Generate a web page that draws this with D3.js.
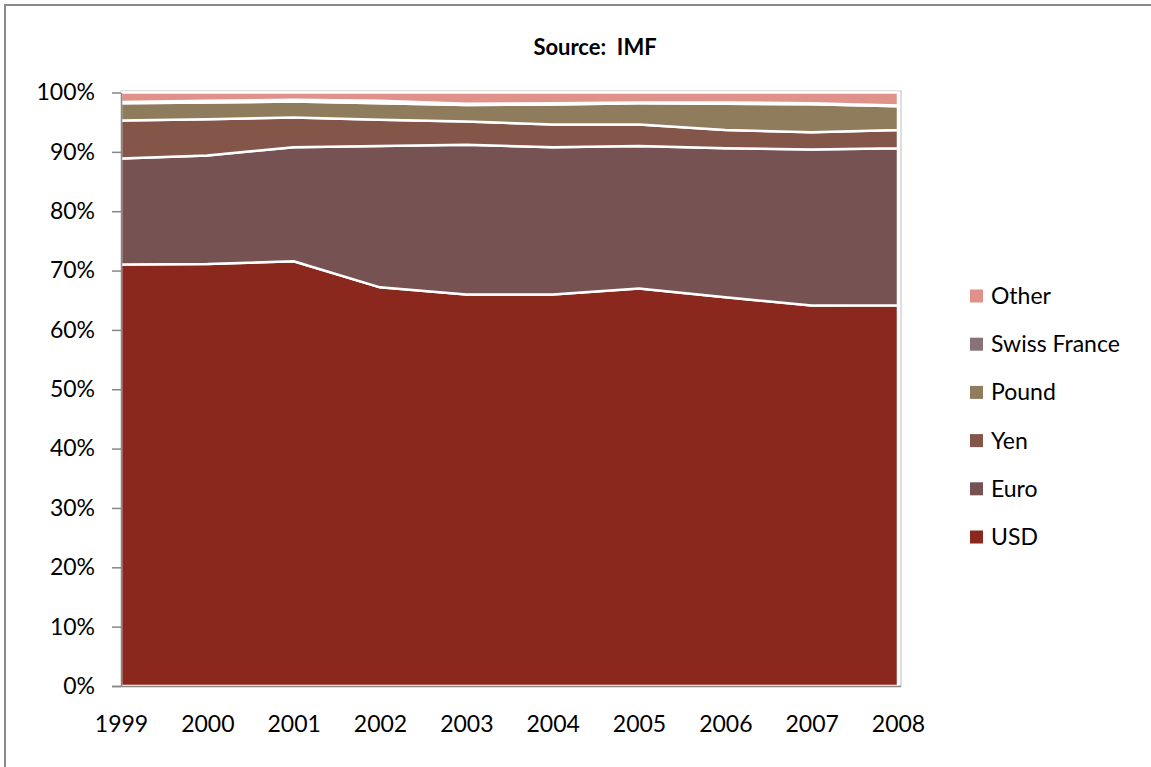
<!DOCTYPE html>
<html>
<head>
<meta charset="utf-8">
<script src="https://cdn.jsdelivr.net/npm/d3@7"></script>
<style>
  html, body { margin: 0; padding: 0; background: #fff; }
  svg { display: block; }
  text { font-family: Lato, "Open Sans", sans-serif; fill: #000; }
</style>
</head>
<body>
<svg id="chart" width="1151" height="767"></svg>
<script>
// Share of allocated foreign-exchange reserves by currency (%)
const years = ["1999", "2000", "2001", "2002", "2003", "2004", "2005", "2006", "2007", "2008"];
const usd    = [71.0, 71.1, 71.5, 67.1, 65.9, 65.9, 66.9, 65.5, 64.1, 64.1];
const euro   = [17.9, 18.3, 19.2, 23.8, 25.2, 24.8, 24.0, 25.1, 26.3, 26.4];
const yen    = [ 6.4,  6.1,  5.0,  4.4,  3.9,  3.8,  3.6,  3.1,  2.9,  3.1];
const pound  = [ 2.9,  2.8,  2.7,  2.8,  2.8,  3.4,  3.6,  4.4,  4.7,  4.0];
const swiss  = [ 0.2,  0.3,  0.3,  0.4,  0.2,  0.2,  0.1,  0.2,  0.2,  0.1];
const other  = [ 1.6,  1.4,  1.2,  1.4,  1.9,  1.8,  1.7,  1.7,  1.8,  2.2];

const seriesNames = ["USD", "Euro", "Yen", "Pound", "Swiss France", "Other"];
const seriesValues = [usd, euro, yen, pound, swiss, other];
const seriesColors = ["#8a281e", "#765252", "#84564a", "#8f7c5c", "#857377", "#e0918a"];
const yTicks = [0, 0.1, 0.2, 0.3, 0.4, 0.5, 0.6, 0.7, 0.8, 0.9, 1.0];

const rows = years.map((yr, i) => {
  const r = { year: yr };
  seriesNames.forEach((k, j) => { r[k] = seriesValues[j][i]; });
  return r;
});

const svg = d3.select("#chart");
const labelFont = "23px";

// Outer chart frame
svg.append("rect")
  .attr("x", 5).attr("y", 5)
  .attr("width", 1200).attr("height", 800)
  .attr("fill", "none")
  .attr("stroke", "#8a8a8a")
  .attr("stroke-width", 2);

// Title
svg.append("text")
  .attr("x", 595).attr("y", 55)
  .attr("text-anchor", "middle")
  .style("white-space", "pre")
  .style("font-weight", "bold")
  .style("font-size", "22px")
  .text("Source:  IMF");

const x = d3.scalePoint().domain(years).range([121, 898]);
const y = d3.scaleLinear().domain([0, 1]).range([686, 92.5]);

// Plot area border
svg.append("rect")
  .attr("x", 121).attr("y", 91)
  .attr("width", 780).attr("height", 595)
  .attr("fill", "none")
  .attr("stroke", "#d4d4d4")
  .attr("stroke-width", 1.5);

const stack = d3.stack()
  .keys(seriesNames)
  .offset(d3.stackOffsetExpand);
const layers = stack(rows);

const area = d3.area()
  .x(d => x(d.data.year))
  .y0(d => y(d[0]))
  .y1(d => y(d[1]));

svg.append("g")
  .selectAll("path")
  .data(layers)
  .join("path")
  .attr("d", area)
  .attr("fill", (d, i) => seriesColors[i])
  .attr("stroke", "#fff")
  .attr("stroke-width", 2.5)
  .attr("stroke-linejoin", "round");

// Y axis
const yAxis = svg.append("g")
  .attr("transform", "translate(121,0)")
  .call(d3.axisLeft(y)
    .tickValues(yTicks)
    .tickFormat(d3.format(".0%"))
    .tickSize(9)
    .tickPadding(17)
    .tickSizeOuter(0));
yAxis.selectAll("path, line").attr("stroke", "#868686").attr("stroke-width", 1.5);
yAxis.selectAll("text")
  .style("font-size", labelFont)
  .style("font-family", "Lato, 'Open Sans', sans-serif")
  .attr("fill", "#000");

// X axis
const xAxis = svg.append("g")
  .attr("transform", "translate(0,686)")
  .call(d3.axisBottom(x).tickSize(0).tickPadding(30).tickSizeOuter(0));
xAxis.select("path").attr("stroke", "#868686").attr("stroke-width", 1.5)
  .attr("d", `M${x.range()[0] - 9},0.5H${x.range()[1] + 3}`);
xAxis.selectAll("text")
  .style("font-size", labelFont)
  .style("font-family", "Lato, 'Open Sans', sans-serif")
  .attr("fill", "#000");

// Legend (top series first)
const legend = svg.append("g");
const legendItems = seriesNames.map((name, i) => ({ name, color: seriesColors[i] })).reverse();
const li = legend.selectAll("g")
  .data(legendItems)
  .join("g")
  .attr("transform", (d, i) => `translate(970, ${296 + i * 48.2})`);
li.append("rect")
  .attr("x", 0).attr("y", -6.5)
  .attr("width", 13).attr("height", 13)
  .attr("fill", d => d.color);
li.append("text")
  .attr("x", 21).attr("y", 0)
  .attr("dy", "0.35em")
  .style("font-size", labelFont)
  .text(d => d.name);
</script>
</body>
</html>
